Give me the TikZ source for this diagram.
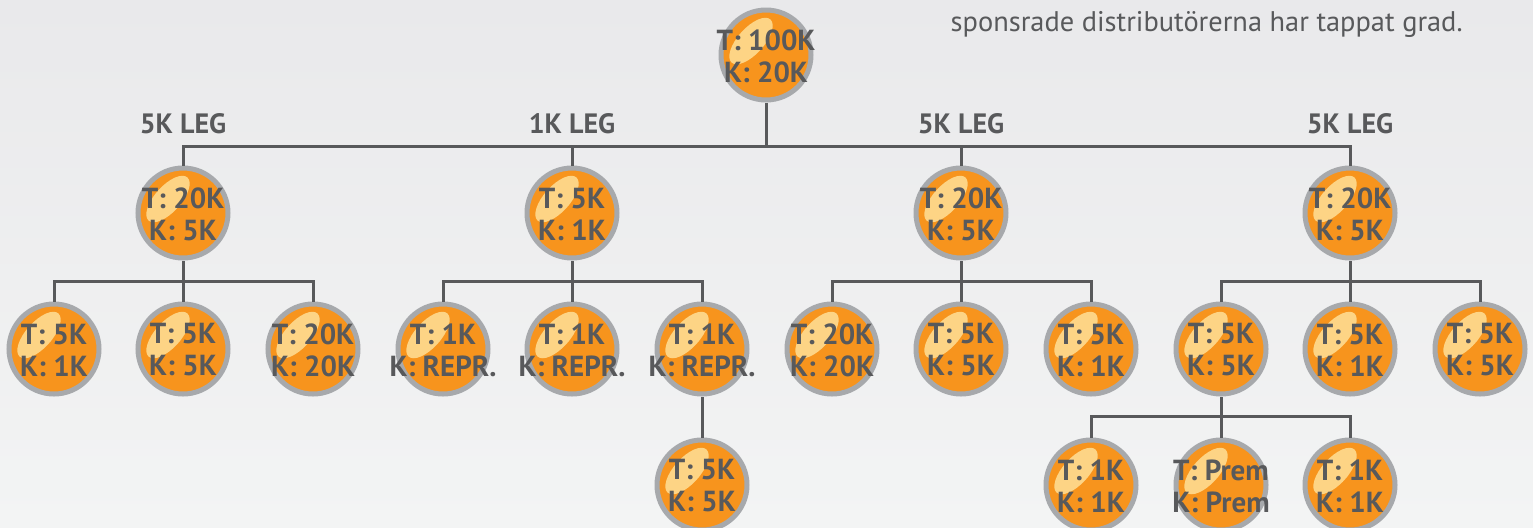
\documentclass[tikz,border=0pt]{standalone}
\usepackage{fontspec}
\setmainfont{PT Sans}
\definecolor{ringgray}{HTML}{A7A9AC}
\definecolor{orng}{HTML}{F7941D}
\definecolor{hlite}{HTML}{FDD485}
\definecolor{txtgray}{HTML}{58595B}
\definecolor{bgtop}{HTML}{E9E9EB}
\definecolor{bgbot}{HTML}{F3F4F4}
\tikzset{
  ball/.style={circle, draw=ringgray, line width=2.5pt, fill=orng, minimum size=45pt, inner sep=0pt},
  shine/.style={fill=hlite},
  balltext/.style={text=txtgray, font=\fontsize{14.5}{16}\selectfont\bfseries, align=center, inner sep=0pt},
  legtext/.style={text=txtgray, font=\fontsize{14}{16}\selectfont\bfseries, inner sep=0pt},
  conn/.style={draw=txtgray, line width=1.5pt},
}
\newcommand{\ballnode}[4]{%
  \node[ball] (#1) at (#2) {};
  \begin{scope}[shift={([xshift=-7.5pt,yshift=7pt]#1.center)}, rotate=48]
    \fill[shine] (0,0) ellipse (14.5pt and 6.5pt);
  \end{scope}
  \node[balltext] (#1t) at ([yshift=-0.5pt]#1.center) {#3\\#4};
}
\begin{document}
\begin{tikzpicture}[x=0.5pt, y=-0.5pt]
\shade[top color=bgtop, bottom color=bgbot] (0,0) rectangle (1533,527);
\useasboundingbox (0,0) rectangle (1533,527);

\node[text=txtgray, font=\fontsize{14.2}{16}\selectfont, anchor=base east, inner sep=0pt] (note) at (1463,31) {sponsrade distributörerna har tappat grad.};

% legs labels
\node[legtext, anchor=base] (lega) at (183,133) {5K LEG};
\node[legtext, anchor=base] (legb) at (572,133) {1K LEG};
\node[legtext, anchor=base] (legc) at (961,133) {5K LEG};
\node[legtext, anchor=base] (legd) at (1350,133) {5K LEG};

% junction coordinates
\coordinate (j0) at (766,146);
\coordinate (ja) at (183,281);
\coordinate (jb) at (572,281);
\coordinate (jc) at (961,281);
\coordinate (jd) at (1350,281);
\coordinate (jd1) at (1221,416);

\ballnode{root}{766,55}{T: 100K}{K: 20K}
\ballnode{a}{183,213}{T: 20K}{K: 5K}
\ballnode{b}{572,213}{T: 5K}{K: 1K}
\ballnode{c}{961,213}{T: 20K}{K: 5K}
\ballnode{d}{1350,213}{T: 20K}{K: 5K}

\ballnode{a1}{54,349}{T: 5K}{K: 1K}
\ballnode{a2}{183,349}{T: 5K}{K: 5K}
\ballnode{a3}{313,349}{T: 20K}{K: 20K}
\ballnode{b1}{443,349}{T: 1K}{K: REPR.}
\ballnode{b2}{572,349}{T: 1K}{K: REPR.}
\ballnode{b3}{702,349}{T: 1K}{K: REPR.}
\ballnode{c1}{832,349}{T: 20K}{K: 20K}
\ballnode{c2}{961,349}{T: 5K}{K: 5K}
\ballnode{c3}{1091,349}{T: 5K}{K: 1K}
\ballnode{d1}{1221,349}{T: 5K}{K: 5K}
\ballnode{d2}{1350,349}{T: 5K}{K: 1K}
\ballnode{d3}{1480,349}{T: 5K}{K: 5K}

\ballnode{b3a}{702,485}{T: 5K}{K: 5K}
\ballnode{d1a}{1091,485}{T: 1K}{K: 1K}
\ballnode{d1b}{1221,485}{T: Prem}{K: Prem}
\ballnode{d1c}{1350,485}{T: 1K}{K: 1K}

\draw[conn] (root.south) -- (j0);
\foreach \n in {a,b,c,d} \draw[conn] (\n.north) |- (j0);

\draw[conn] (a.south) -- (ja);
\foreach \n in {a1,a2,a3} \draw[conn] (\n.north) |- (ja);
\draw[conn] (b.south) -- (jb);
\foreach \n in {b1,b2,b3} \draw[conn] (\n.north) |- (jb);
\draw[conn] (c.south) -- (jc);
\foreach \n in {c1,c2,c3} \draw[conn] (\n.north) |- (jc);
\draw[conn] (d.south) -- (jd);
\foreach \n in {d1,d2,d3} \draw[conn] (\n.north) |- (jd);

\draw[conn] (b3.south) -- (b3a.north);
\draw[conn] (d1.south) -- (jd1);
\foreach \n in {d1a,d1b,d1c} \draw[conn] (\n.north) |- (jd1);
\end{tikzpicture}
\end{document}
